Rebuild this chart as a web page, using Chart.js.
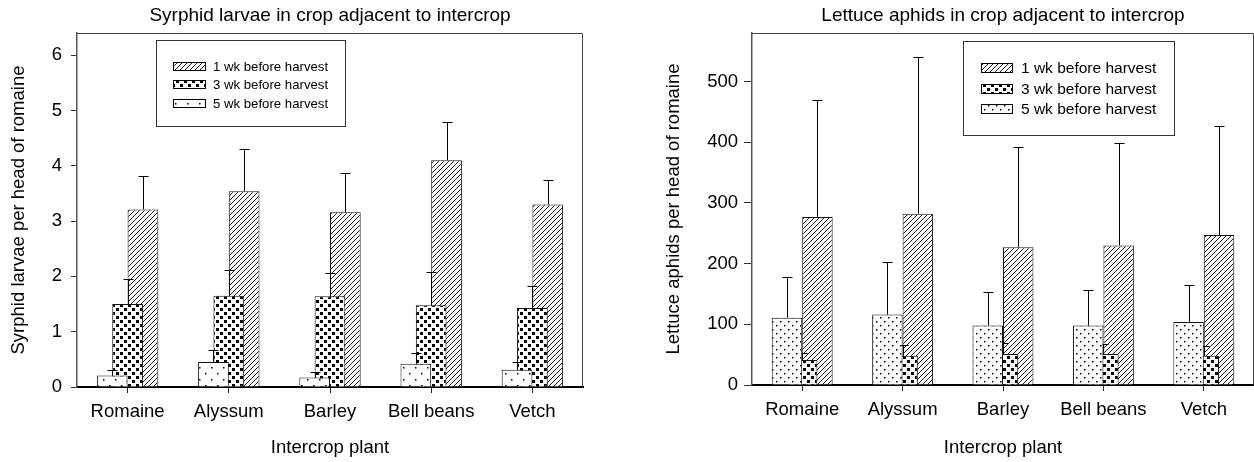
<!DOCTYPE html>
<html>
<head>
<meta charset="utf-8">
<script src="https://cdn.jsdelivr.net/npm/chart.js@4.4.1/dist/chart.umd.min.js"></script>
<style>
  html, body { margin: 0; padding: 0; background: #fff; }
  #wrap { position: relative; width: 1254px; height: 462px; overflow: hidden; }
  canvas { position: absolute; top: 0; }
  #syrphidChart { left: 0; }
  #aphidChart { left: 627px; }
</style>
</head>
<body>
<div id="wrap">
  <canvas id="syrphidChart" width="627" height="462"></canvas>
  <canvas id="aphidChart" width="627" height="462"></canvas>
</div>
<script>
// Catégories et séries
const plants = ['Romaine', 'Alyssum', 'Barley', 'Bell beans', 'Vetch'];
const seriesNames = ['5 wk before harvest', '3 wk before harvest', '1 wk before harvest'];

// Syrphid larvae per head of romaine (moyenne + erreur supérieure)
const syrphid5wk = [0.21, 0.45, 0.17, 0.42, 0.31];
const syrphid3wk = [1.50, 1.65, 1.64, 1.48, 1.43];
const syrphid1wk = [3.21, 3.54, 3.16, 4.10, 3.30];
const syrphidErr5wk = [0.09, 0.22, 0.11, 0.20, 0.14];
const syrphidErr3wk = [0.46, 0.46, 0.43, 0.60, 0.40];
const syrphidErr1wk = [0.60, 0.77, 0.71, 0.69, 0.44];
const syrphidTicks = [0, 1, 2, 3, 4, 5, 6];

// Lettuce aphids per head of romaine
const aphid5wk = [111, 116, 98, 98, 104];
const aphid3wk = [41, 48, 51, 51, 48];
const aphid1wk = [277, 282, 227, 230, 247];
const aphidErr5wk = [67, 87, 56, 58, 61];
const aphidErr3wk = [11, 18, 19, 17, 16];
const aphidErr1wk = [193, 259, 165, 169, 180];
const aphidTicks = [0, 100, 200, 300, 400, 500];

const FONT = '"Liberation Sans", Arial, Helvetica, sans-serif';
Chart.defaults.font.family = FONT;
Chart.defaults.color = '#000';

// Motifs de remplissage (hachures, carrés, points)
function makePattern(ctx, kind, size) {
  const c = document.createElement('canvas');
  c.width = size; c.height = size;
  const g = c.getContext('2d');
  g.fillStyle = '#fff';
  g.fillRect(0, 0, size, size);
  g.fillStyle = '#000';
  g.strokeStyle = '#000';
  if (kind === 'hatch') {
    g.lineWidth = 0.9;
    g.beginPath();
    g.moveTo(0, size); g.lineTo(size, 0);
    g.moveTo(-1, 1); g.lineTo(1, -1);
    g.moveTo(size - 1, size + 1); g.lineTo(size + 1, size - 1);
    g.stroke();
  } else if (kind === 'squares') {
    g.fillRect(0, 0, 3, 3);
    g.fillRect(size / 2, size / 2, 3, 3);
  } else {
    g.fillRect(1, 1, 1.5, 1.5);
    g.fillRect(size / 2 + 1, size / 2 + 1, 1.5, 1.5);
  }
  return ctx.createPattern(c, 'repeat');
}

// Barres d'erreur (partie supérieure seulement)
const errorBarPlugin = {
  id: 'errorBars',
  afterDatasetDraw(chart, args) {
    const ds = chart.data.datasets[args.index];
    if (!ds.errors) return;
    const y = chart.scales.y;
    const ctx = chart.ctx;
    ctx.save();
    ctx.strokeStyle = '#000';
    ctx.lineWidth = 1;
    args.meta.data.forEach((bar, i) => {
      const top = Math.round(y.getPixelForValue(ds.data[i] + ds.errors[i])) + 0.5;
      const x = Math.round(bar.x) + 0.5;
      ctx.beginPath();
      ctx.moveTo(x, bar.y);
      ctx.lineTo(x, top);
      ctx.moveTo(x - 5, top);
      ctx.lineTo(x + 5, top);
      ctx.stroke();
    });
    ctx.restore();
  }
};

// Cadre haut + droite
const framePlugin = {
  id: 'frame',
  beforeDatasetsDraw(chart) {
    const { ctx, chartArea: a } = chart;
    ctx.save();
    ctx.strokeStyle = '#444';
    ctx.lineWidth = 1;
    ctx.beginPath();
    ctx.moveTo(a.left, a.top + 0.5);
    ctx.lineTo(a.right - 0.5, a.top + 0.5);
    ctx.lineTo(a.right - 0.5, a.bottom);
    ctx.stroke();
    ctx.restore();
  }
};

// Légende encadrée dans la zone du graphique
const boxLegendPlugin = {
  id: 'boxLegend',
  afterDraw(chart, args, o) {
    const ctx = chart.ctx;
    ctx.save();
    ctx.fillStyle = '#fff';
    ctx.fillRect(o.x, o.y, o.w, o.h);
    ctx.strokeStyle = '#333';
    ctx.lineWidth = 1;
    ctx.strokeRect(o.x + 0.5, o.y + 0.5, o.w, o.h);
    ctx.font = o.fontSize + 'px ' + FONT;
    ctx.textBaseline = 'middle';
    o.order.forEach((dsIndex, row) => {
      const ds = chart.data.datasets[dsIndex];
      const cy = Math.round(o.firstRow + row * o.rowGap);
      const top = cy - Math.round(o.swatchH / 2);
      ctx.fillStyle = ds.backgroundColor;
      ctx.fillRect(o.swatchX, top, o.swatchW, o.swatchH);
      ctx.strokeStyle = '#000';
      ctx.strokeRect(o.swatchX + 0.5, top + 0.5, o.swatchW, o.swatchH);
      ctx.fillStyle = '#000';
      ctx.fillText(ds.label, o.textX, cy + 1);
    });
    ctx.restore();
  }
};

function buildChart(canvasId, c) {
  const canvas = document.getElementById(canvasId);
  const ctx = canvas.getContext('2d');
  const fills = [
    makePattern(ctx, 'dots', c.dotSize),
    makePattern(ctx, 'squares', 8),
    makePattern(ctx, 'hatch', 5)
  ];
  const values = [c.v5, c.v3, c.v1];
  const errs = [c.e5, c.e3, c.e1];
  const datasets = values.map((v, i) => ({
    label: seriesNames[i],
    data: v,
    errors: errs[i],
    order: i, // 5 wk devant, 1 wk derrière
    backgroundColor: fills[i],
    borderColor: '#111',
    borderWidth: 1,
    categoryPercentage: 0.455,
    barPercentage: 2.0
  }));

  return new Chart(ctx, {
    type: 'bar',
    data: { labels: plants, datasets },
    plugins: [framePlugin, errorBarPlugin, boxLegendPlugin],
    options: {
      responsive: false,
      animation: false,
      layout: { padding: { left: 0, right: c.padRight, top: 0, bottom: 0 } },
      plugins: {
        legend: { display: false },
        tooltip: { enabled: false },
        title: {
          display: true,
          fullSize: false, // centré sur la zone du graphique
          text: c.title,
          color: '#000',
          font: { size: 19, weight: 'normal' },
          padding: { top: 4, bottom: 6.2 }
        },
        boxLegend: c.legend
      },
      scales: {
        x: {
          grid: { display: true, drawOnChartArea: false, offset: false, tickLength: 6, tickColor: '#222' },
          border: { color: '#000', width: 2 },
          ticks: { font: { size: 18.5 }, padding: 8, color: '#000' },
          title: { display: true, text: 'Intercrop plant', font: { size: 18.5 }, padding: { top: 0, bottom: 3 }, color: '#000' },
          afterFit: s => { s.height = c.xHeight; }
        },
        y: {
          min: 0,
          max: c.yMax,
          grid: { display: true, drawOnChartArea: false, tickLength: c.tickLen, tickColor: '#333' },
          border: { color: '#555', width: 1.5 },
          ticks: { font: { size: 18.5 }, padding: c.tickPad, color: '#000' },
          afterBuildTicks: s => { s.ticks = c.ticks.map(v => ({ value: v })); },
          title: { display: true, text: c.yTitle, font: { size: 18.5 }, padding: { top: c.yTitlePad, bottom: 0 }, color: '#000' },
          afterFit: s => { s.width = c.yWidth; }
        }
      }
    }
  });
}

buildChart('syrphidChart', {
  title: 'Syrphid larvae in crop adjacent to intercrop',
  yTitle: 'Syrphid larvae per head of romaine',
  v5: syrphid5wk, v3: syrphid3wk, v1: syrphid1wk,
  e5: syrphidErr5wk, e3: syrphidErr3wk, e1: syrphidErr1wk,
  ticks: syrphidTicks, yMax: 6.4,
  dotSize: 12, padRight: 44, yWidth: 77, xHeight: 75,
  tickLen: 6, tickPad: 9, yTitlePad: 8,
  legend: { x: 156, y: 40, w: 189, h: 86, swatchX: 173, swatchW: 32, swatchH: 8,
            textX: 213, firstRow: 66, rowGap: 18.4, fontSize: 13.2, order: [2, 1, 0] }
});

buildChart('aphidChart', {
  title: 'Lettuce aphids in crop adjacent to intercrop',
  yTitle: 'Lettuce aphids per head of romaine',
  v5: aphid5wk, v3: aphid3wk, v1: aphid1wk,
  e5: aphidErr5wk, e3: aphidErr3wk, e1: aphidErr1wk,
  ticks: aphidTicks, yMax: 580,
  dotSize: 8, padRight: 0, yWidth: 125, xHeight: 77,
  tickLen: 8, tickPad: 6, yTitlePad: 36,
  legend: { x: 336, y: 41, w: 211, h: 94, swatchX: 354, swatchW: 31, swatchH: 9,
            textX: 394, firstRow: 68, rowGap: 20.7, fontSize: 15.5, order: [2, 1, 0] }
});
</script>
</body>
</html>
